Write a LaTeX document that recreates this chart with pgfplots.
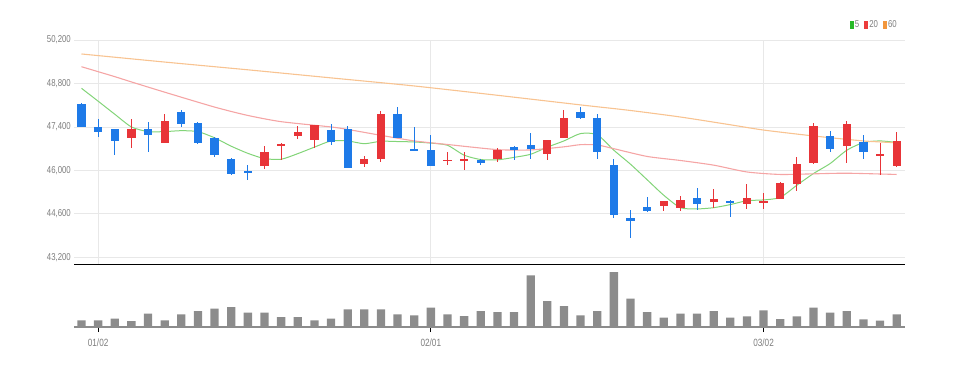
\documentclass[border=0pt]{standalone}
\usepackage{pgfplots}
\pgfplotsset{compat=1.18}
\usepackage{pgfplotstable}
\usepackage{fontspec}
\setmainfont{Liberation Sans}
\newfontfamily\narrowfont[FakeStretch=0.78]{Liberation Sans}

\definecolor{cred}{RGB}{232,52,56}
\definecolor{cblue}{RGB}{30,122,232}
\definecolor{ma5}{RGB}{130,212,120}
\definecolor{ma20}{RGB}{245,165,165}
\definecolor{ma60}{RGB}{248,195,145}
\definecolor{lg5}{RGB}{40,185,40}
\definecolor{lg20}{RGB}{236,60,60}
\definecolor{lg60}{RGB}{242,150,60}
\definecolor{volgray}{RGB}{140,140,140}
\definecolor{gridc}{RGB}{232,232,232}
\definecolor{labc}{RGB}{125,125,125}

% up (red) candles
\pgfplotstableread{
i o h l c
3 47060 47640 46730 47350
5 46890 47830 46890 47590
11 46140 46780 46050 46590
12 46790 46880 46320 46860
13 47100 47420 47020 47240
14 46990 47450 46730 47450
17 46220 46460 46110 46360
18 46380 47920 46270 47830
22 46300 46590 46160 46340
23 46290 46590 46000 46355
25 46380 46730 46270 46670
28 46540 46990 46320 46990
29 47050 47940 47050 47690
35 44870 45030 44690 45010
36 44790 45190 44690 45060
38 44980 45410 44790 45080
40 44920 45570 44760 45120
41 44960 45270 44760 45010
42 45080 45620 45080 45590
43 45570 46430 45350 46220
44 46250 47530 46220 47430
46 46790 47580 46240 47490
48 46460 46880 45860 46540
49 46130 47240 46110 46950
}\up

% down (blue) candles
\pgfplotstableread{
i o h l c
0 48150 48160 47400 47400
1 47400 47640 47080 47240
2 47350 47350 46490 46950
4 47350 47560 46590 47130
6 47880 47940 47400 47510
7 47530 47560 46860 46890
8 47050 47080 46430 46490
9 46380 46410 45840 45870
10 45980 46160 45700 45920
15 47290 47480 46810 46920
16 47330 47420 46090 46090
19 47830 48050 47050 47050
20 46700 47400 46610 46610
21 46650 47130 46130 46130
24 46320 46380 46160 46240
26 46750 46780 46320 46670
27 46810 47190 46380 46700
30 47880 48050 47670 47700
31 47690 47810 46380 46590
32 46190 46360 44470 44550
33 44460 44740 43820 44360
34 44810 45160 44650 44690
37 45120 45440 44730 44920
39 45000 45050 44510 44940
45 47110 47270 46590 46680
47 46910 47130 46380 46590
}\down

\pgfplotstableread{
i v
0 48645
1 48230
2 47810
3 47400
4 47250
5 47250
6 47280
7 47250
8 47050
9 46780
10 46550
11 46380
12 46360
13 46540
14 46750
15 46950
16 46950
17 46860
18 46940
19 46930
20 46917
21 46880
22 46810
23 46490
24 46350
25 46340
26 46420
27 46520
28 46750
29 46950
30 47187
31 47150
32 46650
33 46200
34 45700
35 45200
36 44800
37 44760
38 44800
39 44900
40 45025
41 45050
42 45130
43 45523
44 45900
45 46222
46 46650
47 46898
48 46950
49 46900
}\maf

\pgfplotstableread{
i v
0 49340
1 49180
2 49020
3 48850
5 48520
8 48040
10 47770
12 47570
15 47400
16 47320
18 47130
20 46950
22 46835
25 46670
27 46660
29 46760
30 46830
31 46820
32 46700
34 46450
36 46320
38 46170
40 45950
42 45870
44 45890
46 45910
49 45870
}\matw

\pgfplotstableread{
i v
0 49750
5 49490
10 49240
15 48980
20 48720
25 48420
30 48110
33 47930
36 47720
39 47470
41 47300
44 47110
47 46950
49 46890
}\masx

\pgfplotstableread{
i v
0 20
1 20
2 25
3 18
4 40
5 20
6 38
7 48
8 55
9 60
10 43
11 43
12 30
13 30
14 20
15 25
16 53
17 53
18 53
19 38
20 35
21 58
22 38
23 33
24 48
25 45
26 45
27 155
28 78
29 63
30 35
31 48
32 165
33 85
34 45
35 28
36 40
37 40
38 48
39 28
40 32
41 50
42 24
43 32
44 58
45 43
46 48
47 23
48 19
49 38
}\vol

\begin{document}
\begin{tikzpicture}
\useasboundingbox (0,0) rectangle (953pt,-367pt);
\begin{axis}[
  at={(74pt,-40pt)}, anchor=north west,
  width=831pt, height=224.5pt, scale only axis,
  xmin=-0.45, xmax=49.5, ymin=42970, ymax=50200,
  ytick={43200,44600,46000,47400,48800,50200},
  xtick={1,21,41}, xticklabels={},
  major tick length=0pt,
  grid=major, grid style={gridc, line width=0.8pt},
  axis x line=bottom, axis y line=left,
  x axis line style={black, line width=1.4pt, -},
  y axis line style={draw=none},
  scaled y ticks=false,
  /pgf/number format/.cd, assume math mode=true, 1000 sep={,},
  /pgfplots/.cd,
  yticklabel style={font=\narrowfont\fontsize{10}{10}\selectfont, text=labc, anchor=east, inner sep=0pt, xshift=-3pt},
  legend style={at={(1,1)}, anchor=east, xshift=-7pt, yshift=15pt,
    draw=none, fill=none, inner sep=0pt,
    font=\narrowfont\fontsize{10}{10}\selectfont, text=labc,
    nodes={inner xsep=1pt},
    /tikz/every even column/.append style={column sep=4pt}},
  legend columns=3,
  clip=true,
]
\addplot[ma5, line width=1pt, smooth, tension=0.4,
  legend image code/.code={\fill[lg5] (0pt,-3.5pt) rectangle (3pt,3.5pt);}]
  table[x=i, y=v] {\maf};
\addlegendentry{5}
\addplot[ma20, line width=1.1pt, smooth, tension=0.4,
  legend image code/.code={\fill[lg20] (0pt,-3.5pt) rectangle (3pt,3.5pt);}]
  table[x=i, y=v] {\matw};
\addlegendentry{20}
\addplot[ma60, line width=1.1pt, smooth, tension=0.4,
  legend image code/.code={\fill[lg60] (0pt,-3.5pt) rectangle (3pt,3.5pt);}]
  table[x=i, y=v] {\masx};
\addlegendentry{60}

% wicks
\addplot[forget plot, draw=none, mark=none,
  error bars/.cd, y dir=both, y explicit, error mark=none,
  error bar style={draw=cred, line width=1pt}]
  table[x=i, y expr={(\thisrow{h}+\thisrow{l})/2}, y error expr={(\thisrow{h}-\thisrow{l})/2}] {\up};
\addplot[forget plot, draw=none, mark=none,
  error bars/.cd, y dir=both, y explicit, error mark=none,
  error bar style={draw=cblue, line width=1pt}]
  table[x=i, y expr={(\thisrow{h}+\thisrow{l})/2}, y error expr={(\thisrow{h}-\thisrow{l})/2}] {\down};
% bodies
\addplot[forget plot, draw=none, mark=none,
  error bars/.cd, y dir=both, y explicit, error mark=none,
  error bar style={draw=cred, line width=8.3pt}]
  table[x=i, y expr={(\thisrow{o}+\thisrow{c})/2}, y error expr={abs(\thisrow{c}-\thisrow{o})/2}] {\up};
\addplot[forget plot, draw=none, mark=none,
  error bars/.cd, y dir=both, y explicit, error mark=none,
  error bar style={draw=cblue, line width=8.3pt}]
  table[x=i, y expr={(\thisrow{o}+\thisrow{c})/2}, y error expr={abs(\thisrow{c}-\thisrow{o})/2}] {\down};
\end{axis}

\begin{axis}[
  at={(74pt,-265pt)}, anchor=north west,
  width=831pt, height=62pt, scale only axis,
  xmin=-0.45, xmax=49.5, ymin=0, ymax=186,
  ybar, bar width=8.3pt,
  ytick=\empty,
  xtick={1,21,41}, xticklabels={01/02,02/01,03/02},
  axis x line=bottom, axis y line=none,
  x axis line style={volgray, line width=2pt, -},
  tick align=outside, major tick length=5pt,
  xtick style={black, line width=0.8pt},
  xticklabel style={font=\narrowfont\fontsize{10.5}{10.5}\selectfont, text=labc, inner sep=0pt, yshift=-6.5pt},
]
\addplot[fill=volgray, draw=none] table[x=i, y=v] {\vol};
\end{axis}
\end{tikzpicture}
\end{document}
